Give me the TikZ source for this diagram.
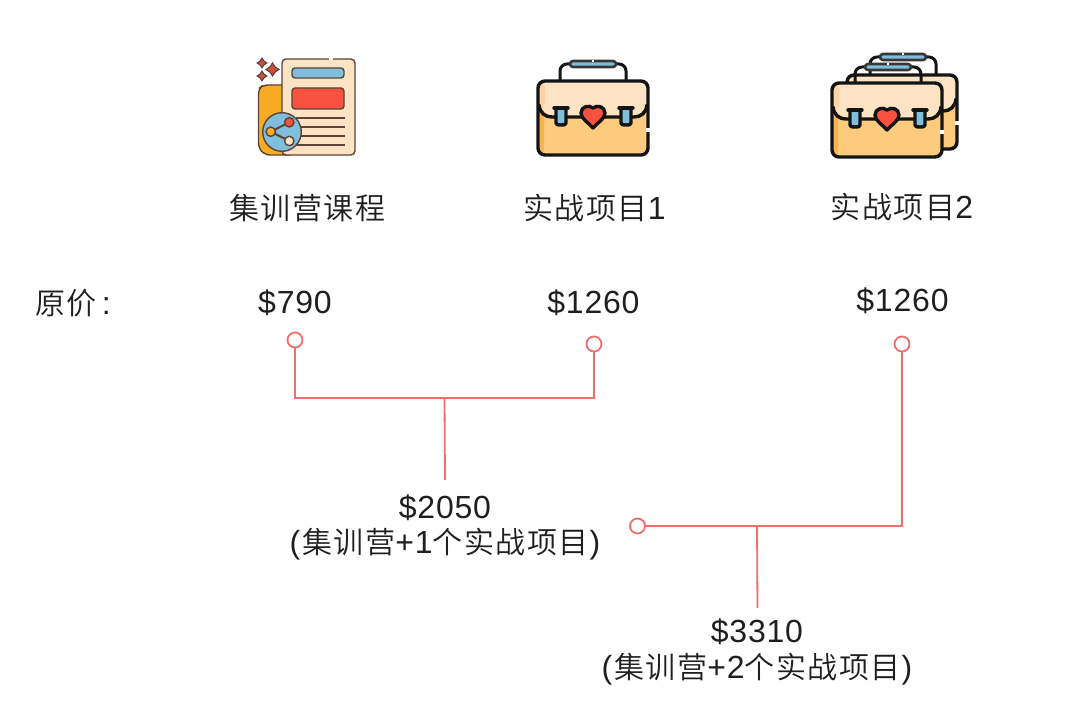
\documentclass[tikz,border=0pt]{standalone}
\usepackage{fontspec}
\setmainfont{Noto Sans CJK SC DemiLight}[LetterSpace=5]
\newfontfamily\latn{Liberation Sans}[LetterSpace=2.5]
\newcommand{\lt}[1]{{\fontsize{32}{34}\selectfont\latn #1}}
\definecolor{linkred}{HTML}{EE6F69}
\definecolor{ink}{HTML}{141414}
\definecolor{brown}{HTML}{5B4338}
\definecolor{peach}{HTML}{FBE3C4}
\definecolor{peachd}{HTML}{FDD3A6}
\definecolor{gold}{HTML}{FDCB7D}
\definecolor{goldd}{HTML}{F9B44F}
\definecolor{sky}{HTML}{7FBFDC}
\definecolor{tomato}{HTML}{F9503F}
\definecolor{amber}{HTML}{F7AC24}
\tikzset{
  x=1pt,y=-1pt,
  lab/.style={font=\fontsize{30}{34}\selectfont,text=black!88,inner sep=0pt},
  hole/.style={circle,draw=linkred,fill=white,line width=1.8pt,minimum size=15pt,inner sep=0pt},
  link/.style={draw=linkred,line width=1.8pt},
  case/.style={draw=ink,line width=3.4pt,line join=round,line cap=round},
  doc/.style={draw=brown,line width=1.4pt,line join=round},
  pics/handle/.style={code={
    \draw[case,line width=3pt,rounded corners=7pt] (0,19)--(0,0)--(66,0)--(66,19);
    \draw[case,line width=2.6pt,draw=ink!85,fill=sky,rounded corners=3pt] (10,-3) rectangle (56,3);
    \draw[white,line width=1.2pt] (32,-3)--(34,-3);
  }},
  pics/briefcase/.style={code={
    \fill[gold,rounded corners=7pt] (0,0) rectangle (110,74);
    \fill[goldd,rounded corners=5pt] (0,30) rectangle (6,74);
    \fill[peach,rounded corners=7pt] (0,0)--(110,0)--(110,24)--(98,36)--(12,36)--(0,24)--cycle;
    \fill[peachd,rounded corners=5pt] (1,1) rectangle (7,27);
    \draw[case] (1,24) .. controls (2,32) and (7,36) .. (14,36) -- (96,36) .. controls (103,36) and (108,32) .. (109,24);
    \draw[case,fill=sky] (18,27) -- (18,42) .. controls (18,44) and (20,44) .. (23,44) .. controls (26,44) and (28,44) .. (28,42) -- (28,27);
    \draw[case] (16,27)--(30,27);
    \draw[case,fill=sky] (83,27) -- (83,42) .. controls (83,44) and (85,44) .. (88,44) .. controls (91,44) and (93,44) .. (93,42) -- (93,27);
    \draw[case] (81,27)--(95,27);
    \draw[case,fill=tomato] (55,27) .. controls (59,23.5) and (67,25.5) .. (67,32) .. controls (67,38) and (59,42) .. (55,47) .. controls (51,42) and (43,38) .. (43,32) .. controls (43,25.5) and (51,23.5) .. (55,27) -- cycle;
    \draw[case,rounded corners=7pt] (0,0) rectangle (110,74);
    \draw[white,line width=4pt] (110,47)--(110,51);
  }},
  pics/sparkle/.style={code={
    \draw[brown,line width=1.1pt,fill=tomato!75!brown] (0,-#1) -- (#1*.4,-#1*.4) -- (#1,0) -- (#1*.4,#1*.4) -- (0,#1) -- (-#1*.4,#1*.4) -- (-#1,0) -- (-#1*.4,-#1*.4) -- cycle;
  }}
}
\begin{document}
\begin{tikzpicture}
\useasboundingbox (0,0) rectangle (1080,725);
% document icon
\draw[doc,fill=amber,rounded corners=5pt] (285,85) -- (263,85) -- (258.5,89) -- (258.5,148) -- (265,155) -- (290,155);
\fill[amber] (262,87) rectangle (284,150);
\draw[doc,fill=peach,rounded corners=4pt] (282,59) rectangle (355,155);
\draw[white,line width=1.8pt] (329,59)--(333,59);
\draw[doc,fill=sky,rounded corners=3pt] (292,68) rectangle (344,78);
\draw[doc,fill=tomato,rounded corners=3pt] (292,88) rectangle (344,109);
\foreach \yy in {118,127,136,145} \draw[doc,line width=1.1pt] (296,\yy)--(345,\yy);
\draw[doc,fill=sky] (282,132) circle[radius=19.3];
\draw[doc,line width=2pt] (289.3,122.3)--(270.7,131.7)--(289.3,141);
\draw[doc,fill=tomato] (289.3,122.3) circle[radius=4.7];
\draw[doc,fill=amber] (270.7,131.7) circle[radius=4.7];
\draw[doc,fill=peach] (289.3,141) circle[radius=4.7];
\pic at (272.5,69.5) {sparkle=6.5};
\pic at (262,63) {sparkle=4.8};
\pic at (262,76) {sparkle=4.8};
% single briefcase
\pic at (560,64) {handle};
\pic at (538,81) {briefcase};
% stacked briefcases
\pic at (870,57) {handle};
\begin{scope}[shift={(847,75)}]
\fill[gold,rounded corners=7pt] (0,0) rectangle (110,74);
\fill[peach,rounded corners=7pt] (0,0)--(110,0)--(110,24)--(98,36)--(12,36)--(0,24)--cycle;
\draw[case] (1,24) .. controls (2,32) and (7,36) .. (14,36) -- (96,36) .. controls (103,36) and (108,32) .. (109,24);
\draw[case,rounded corners=7pt] (0,0) rectangle (110,74);
\draw[white,line width=4pt] (110,46)--(110,50);
\end{scope}
\pic at (855,67) {handle};
\pic at (832,83) {briefcase};
% labels
\node[lab] (t1) at (307,208) {集训营课程};
\node[lab] (t2) at (594.5,208) {实战项目\lt{1}};
\node[lab] (t3) at (902,207) {实战项目\lt{2}};
\node[lab] (t4) at (73,303) {原价\lt{\,:}};
\node[lab] (p1) at (295,303) {\lt{\$790}};
\node[lab] (p2) at (593.5,303) {\lt{\$1260}};
\node[lab] (p3) at (902.5,301) {\lt{\$1260}};
\node[lab] (s1) at (445,508) {\lt{\$2050}};
\node[lab] (s2) at (445,544) {\lt{(}\kern2pt 集训营\lt{+1}个实战项目\kern1pt\lt{)}};
\node[lab] (s3) at (757,632) {\lt{\$3310}};
\node[lab] (s4) at (757,669) {\lt{(}\kern2pt 集训营\lt{+2}个实战项目\kern1pt\lt{)}};
% connectors
\node[hole] (h1) at (295,340) {};
\node[hole] (h2) at (594,344) {};
\node[hole] (h3) at (902,344) {};
\node[hole] (h4) at (637.5,526) {};
\coordinate (j1) at (444.5,398);
\coordinate (e1) at (445,480);
\coordinate (j2) at (757,526);
\coordinate (e2) at (757.5,608);
\draw[link] (h1) |- (j1) -| (h2);
\draw[link] (j1) -- (e1);
\draw[link] (h3) |- (h4);
\draw[link] (j2) -- (e2);
\end{tikzpicture}
\end{document}
